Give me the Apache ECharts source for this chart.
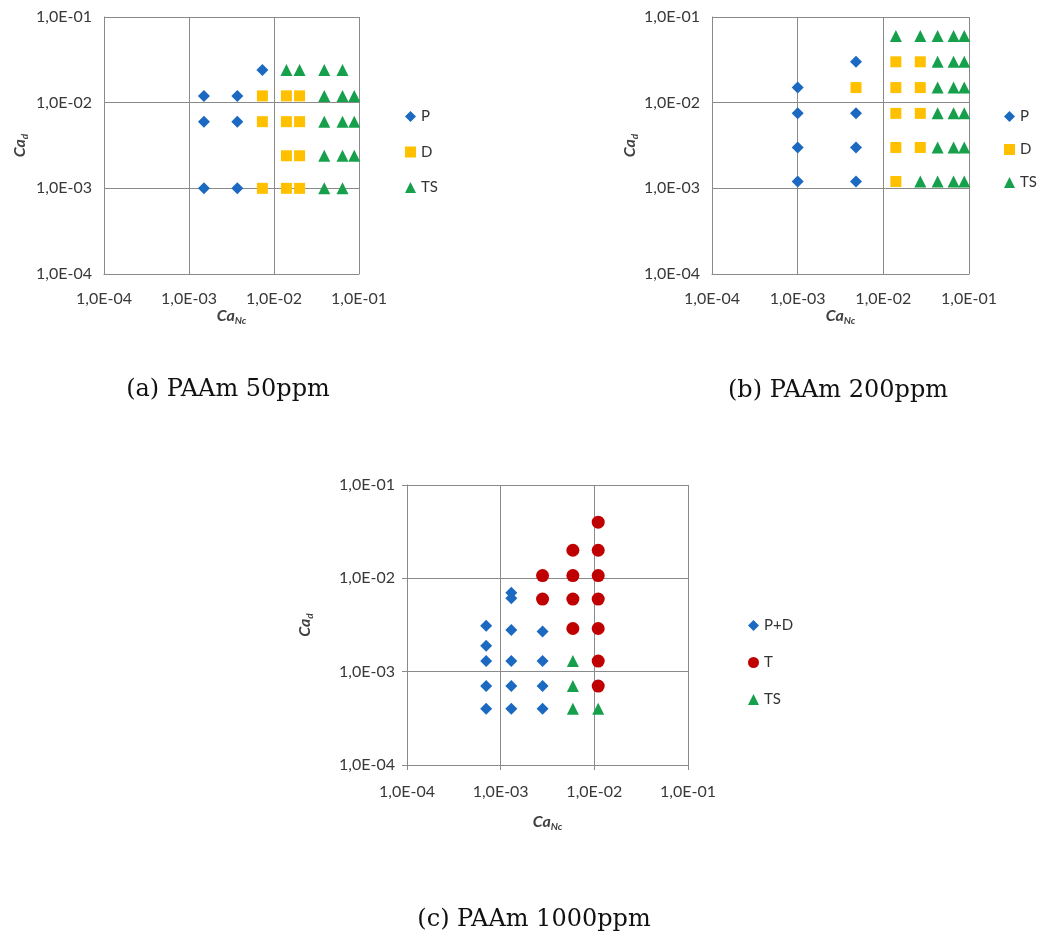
<!DOCTYPE html>
<html>
<head>
<meta charset="utf-8">
<script src="https://cdn.jsdelivr.net/npm/echarts@6/dist/echarts.min.js"></script>
<style>
html,body{margin:0;padding:0;background:#fff;}
#chart{width:1040px;height:941px;}
</style>
</head>
<body>
<div id="chart"></div>
<script>
// ---- Data ----
const tickLabels = ['1,0E-04', '1,0E-03', '1,0E-02', '1,0E-01'];
const captions = ['(a) PAAm 50ppm', '(b) PAAm 200ppm', '(c) PAAm 1000ppm'];

// (a) PAAm 50ppm  [CaNc, Cad]
const a_P = [[1.5e-3,1.2e-2],[3.7e-3,1.2e-2],[1.5e-3,6e-3],[3.7e-3,6e-3],[1.5e-3,1e-3],[3.7e-3,1e-3],[7.3e-3,2.4e-2]];
const a_D = [[7.3e-3,1.2e-2],[7.3e-3,6e-3],[7.3e-3,1e-3],
             [1.4e-2,1.2e-2],[1.4e-2,6e-3],[1.4e-2,2.4e-3],[1.4e-2,1e-3],
             [2e-2,1.2e-2],[2e-2,6e-3],[2e-2,2.4e-3],[2e-2,1e-3]];
const a_TS = [[1.4e-2,2.4e-2],[2e-2,2.4e-2],[3.9e-2,2.4e-2],[6.4e-2,2.4e-2],
              [3.9e-2,1.2e-2],[6.4e-2,1.2e-2],[8.8e-2,1.2e-2],
              [3.9e-2,6e-3],[6.4e-2,6e-3],[8.8e-2,6e-3],
              [3.9e-2,2.4e-3],[6.4e-2,2.4e-3],[8.8e-2,2.4e-3],
              [3.9e-2,1e-3],[6.4e-2,1e-3]];

// (b) PAAm 200ppm
const b_P = [[1e-3,1.5e-2],[1e-3,7.5e-3],[1e-3,3e-3],[1e-3,1.2e-3],
             [4.8e-3,3e-2],[4.8e-3,7.5e-3],[4.8e-3,3e-3],[4.8e-3,1.2e-3]];
const b_D = [[4.8e-3,1.5e-2],
             [1.4e-2,3e-2],[1.4e-2,1.5e-2],[1.4e-2,7.5e-3],[1.4e-2,3e-3],[1.4e-2,1.2e-3],
             [2.7e-2,3e-2],[2.7e-2,1.5e-2],[2.7e-2,7.5e-3],[2.7e-2,3e-3]];
const b_TS = [[1.4e-2,6e-2],[2.7e-2,6e-2],[4.3e-2,6e-2],[6.6e-2,6e-2],[8.8e-2,6e-2],
              [4.3e-2,3e-2],[6.6e-2,3e-2],[8.8e-2,3e-2],
              [4.3e-2,1.5e-2],[6.6e-2,1.5e-2],[8.8e-2,1.5e-2],
              [4.3e-2,7.5e-3],[6.6e-2,7.5e-3],[8.8e-2,7.5e-3],
              [4.3e-2,3e-3],[6.6e-2,3e-3],[8.8e-2,3e-3],
              [2.7e-2,1.2e-3],[4.3e-2,1.2e-3],[6.6e-2,1.2e-3],[8.8e-2,1.2e-3]];

// (c) PAAm 1000ppm
const c_PD = [[7e-4,3.1e-3],[7e-4,1.9e-3],[7e-4,1.3e-3],[7e-4,7e-4],[7e-4,4e-4],
              [1.3e-3,7e-3],[1.3e-3,6.1e-3],[1.3e-3,2.8e-3],[1.3e-3,1.3e-3],[1.3e-3,7e-4],[1.3e-3,4e-4],
              [2.8e-3,2.7e-3],[2.8e-3,1.3e-3],[2.8e-3,7e-4],[2.8e-3,4e-4]];
const c_T = [[2.8e-3,1.07e-2],[2.8e-3,6e-3],
             [5.9e-3,2e-2],[5.9e-3,1.07e-2],[5.9e-3,6e-3],[5.9e-3,2.9e-3],
             [1.1e-2,4e-2],[1.1e-2,2e-2],[1.1e-2,1.07e-2],[1.1e-2,6e-3],[1.1e-2,2.9e-3],[1.1e-2,1.3e-3],[1.1e-2,7e-4]];
const c_TS = [[5.9e-3,1.3e-3],[5.9e-3,7e-4],[5.9e-3,4e-4],[1.1e-2,4e-4]];

// ---- Styles ----
const BLUE = '#1b69c1', YELLOW = '#ffc000', GREEN = '#16a04b', RED = '#c00000';
const GRIDC = '#8a8a8a';
const SANS = 'Lato, "Open Sans", sans-serif';

function fmt(v){
  const e = Math.round(Math.log10(v));
  return tickLabels[e + 4] || '';
}
const nameRich = {
  m: {fontFamily: SANS, fontSize: 16, fontWeight: 'bold', fontStyle: 'italic', color: '#404040', lineHeight: 16, verticalAlign: 'top'},
  s: {fontFamily: SANS, fontSize: 10, fontWeight: 'bold', fontStyle: 'italic', color: '#404040', lineHeight: 10, verticalAlign: 'top', padding: [8,0,0,0]}
};
function axis(dim, gi, nameGap, margin, tick){
  return {
    type: 'log', logBase: 10, gridIndex: gi, min: 1e-4, max: 1e-1,
    name: dim === 'x' ? '{m|Ca}{s|Nc}' : '{m|Ca}{s|d}',
    nameLocation: 'middle', nameGap: nameGap,
    nameTextStyle: {rich: nameRich},
    axisLine: {show: true, lineStyle: {color: GRIDC, width: 1}},
    axisTick: {show: tick, length: 5, lineStyle: {color: GRIDC}},
    minorTick: {show: false},
    splitLine: {show: true, lineStyle: {color: GRIDC, width: 1}},
    axisLabel: {formatter: fmt, fontFamily: SANS, fontSize: 16, color: '#383838', margin: margin, showMinLabel: true, showMaxLabel: true}
  };
}
function sc(name, data, gi, symbol, size, color){
  return {name, type: 'scatter', xAxisIndex: gi, yAxisIndex: gi, data, symbol, symbolSize: size,
    itemStyle: {color, opacity: 1}, emphasis: {disabled: true}, silent: true};
}
function legend(names, left, top, gap){
  return {data: names, orient: 'vertical', left, top, itemGap: gap, itemWidth: 11, itemHeight: 11,
    padding: 0, selectedMode: false,
    textStyle: {fontFamily: SANS, fontSize: 15, color: '#333'}};
}

const chart = echarts.init(document.getElementById('chart'), null, {renderer: 'canvas'});
chart.setOption({
  animation: false,
  backgroundColor: '#fff',
  grid: [
    {left: 104, top: 17, width: 255, height: 257},
    {left: 712, top: 17, width: 257, height: 257},
    {left: 407, top: 485, width: 281, height: 280}
  ],
  xAxis: [axis('x', 0, 27, 17, false), axis('x', 1, 33, 17, false), axis('x', 2, 49, 19, true)],
  yAxis: [axis('y', 0, 76, 12, false), axis('y', 1, 74, 12, false), axis('y', 2, 94, 12, true)],
  legend: [
    legend(['P','D','TS'], 405, 109, 20.5),
    legend(['P','D','TS'], 1004, 109, 18),
    legend(['P+D','T','TS'], 748, 618, 22)
  ],
  series: [
    sc('P', a_P, 0, 'diamond', 12, BLUE),
    sc('D', a_D, 0, 'rect', 11, YELLOW),
    sc('TS', a_TS, 0, 'triangle', 12, GREEN),
    sc('P', b_P, 1, 'diamond', 12, BLUE),
    sc('D', b_D, 1, 'rect', 11, YELLOW),
    sc('TS', b_TS, 1, 'triangle', 12, GREEN),
    sc('P+D', c_PD, 2, 'diamond', 12, BLUE),
    sc('T', c_T, 2, 'circle', 13, RED),
    sc('TS', c_TS, 2, 'triangle', 12, GREEN)
  ],
  graphic: [
    {type: 'text', x: 228, y: 390, style: {text: captions[0], font: '24px "DejaVu Serif", serif', fill: '#111', align: 'center', verticalAlign: 'middle'}},
    {type: 'text', x: 838, y: 391, style: {text: captions[1], font: '24px "DejaVu Serif", serif', fill: '#111', align: 'center', verticalAlign: 'middle'}},
    {type: 'text', x: 534, y: 920, style: {text: captions[2], font: '24px "DejaVu Serif", serif', fill: '#111', align: 'center', verticalAlign: 'middle'}}
  ]
});
</script>
</body>
</html>
